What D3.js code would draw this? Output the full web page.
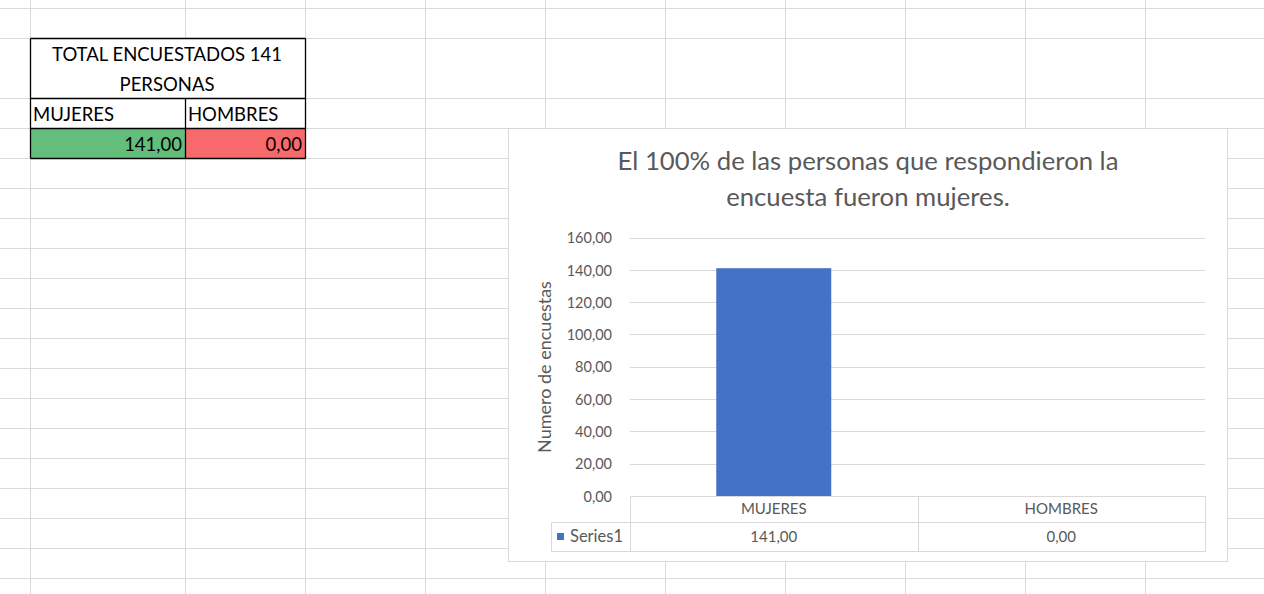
<!DOCTYPE html>
<html><head><meta charset="utf-8">
<script src="https://cdn.jsdelivr.net/npm/d3@7"></script>
<style>
html,body{margin:0;padding:0;background:#fff;}
svg{display:block;}
text{font-family:Lato,"Open Sans",sans-serif;}
</style></head>
<body>
<svg id="c" width="1264" height="594"></svg>
<script>
// ---- data ----
const categories = ["MUJERES", "HOMBRES"];
const seriesName = "Series1";
const values = [141, 0];
const yTicks = [0, 20, 40, 60, 80, 100, 120, 140, 160];
const chartTitle = ["El 100% de las personas que respondieron la", "encuesta fueron mujeres."];
const yAxisTitle = "Numero de encuestas";
const tableTitle = ["TOTAL ENCUESTADOS 141", "PERSONAS"];

const svg = d3.select("#c");
const fmt = v => d3.format(".2f")(v).replace(".", ",");

// ---- spreadsheet grid ----
const colX = [30, 185, 305, 425, 545, 665, 785, 905, 1025, 1145];
const rowY = [8, 38, 98, 128, 158, 188, 218, 248, 278, 308, 338, 368, 398, 428, 458, 488, 518, 548, 578];
const grid = svg.append("g");
colX.forEach(x => grid.append("line").attr("x1", x + 0.5).attr("x2", x + 0.5).attr("y1", 0).attr("y2", 594)
  .attr("stroke", "#dadada").attr("stroke-width", 1));
rowY.forEach(y => grid.append("line").attr("x1", 0).attr("x2", 1264).attr("y1", y + 0.5).attr("y2", y + 0.5)
  .attr("stroke", "#dadada").attr("stroke-width", 1));

// ---- spreadsheet table ----
const t = svg.append("g");
t.append("rect").attr("x", 30).attr("y", 38).attr("width", 275).attr("height", 60).attr("fill", "#fff");
t.append("rect").attr("x", 30).attr("y", 98).attr("width", 275).attr("height", 30).attr("fill", "#fff");
t.append("rect").attr("x", 30).attr("y", 128).attr("width", 155).attr("height", 30).attr("fill", "#63BE7B");
t.append("rect").attr("x", 185).attr("y", 128).attr("width", 120).attr("height", 30).attr("fill", "#F8696B");
const blk = "#000";
[[30.5,38.5,305.5,38.5],[30.5,98.5,305.5,98.5],[30.5,128.5,305.5,128.5],[30.5,158.5,305.5,158.5],
 [30.5,38.5,30.5,158.5],[305.5,38.5,305.5,158.5],[185.5,98.5,185.5,158.5]].forEach(l =>
  t.append("line").attr("x1", l[0]).attr("y1", l[1]).attr("x2", l[2]).attr("y2", l[3]).attr("stroke", blk).attr("stroke-width", 1.3));
const cellFont = "18.5px";
tableTitle.forEach((s, i) => t.append("text").attr("x", 167).attr("y", 61 + i * 30).attr("text-anchor", "middle")
  .attr("font-size", cellFont).attr("fill", "#000").text(s));
categories.forEach((c, i) => t.append("text").attr("x", [33, 188][i]).attr("y", 121).attr("font-size", cellFont).attr("fill", "#000").text(c));
values.forEach((v, i) => t.append("text").attr("x", [182, 302][i]).attr("y", 151).attr("text-anchor", "end")
  .attr("font-size", cellFont).attr("fill", "#000").text(fmt(v)));

// ---- chart ----
const ch = svg.append("g");
ch.append("rect").attr("x", 508.5).attr("y", 128.5).attr("width", 719).attr("height", 433)
  .attr("fill", "#fff").attr("stroke", "#d9d9d9").attr("stroke-width", 1);

chartTitle.forEach((s, i) => ch.append("text").attr("x", 868).attr("y", 170 + i * 36).attr("text-anchor", "middle")
  .attr("font-size", "25.7px").attr("fill", "#595959").text(s));

const x = d3.scaleBand().domain(categories).range([630, 1205]).paddingInner(0.6).paddingOuter(0.3);
const xCat = d3.scaleBand().domain(categories).range([630, 1205]);
const y = d3.scaleLinear().domain([0, 160]).range([496, 237.5]);

// gridlines
ch.append("g").selectAll("line").data(yTicks.filter(d => d > 0)).join("line")
  .attr("x1", 630).attr("x2", 1205).attr("y1", d => Math.round(y(d)) + 0.5).attr("y2", d => Math.round(y(d)) + 0.5)
  .attr("stroke", "#d9d9d9").attr("stroke-width", 1);

// y axis
const yAxis = d3.axisLeft(y).tickValues(yTicks).tickFormat(fmt).tickSize(0).tickPadding(0);
const ya = ch.append("g").attr("transform", "translate(612,0)").call(yAxis);
ya.select(".domain").remove();
ya.selectAll("text").attr("font-size", "14.5px").attr("fill", "#595959").attr("font-family", "Lato,sans-serif").attr("dy", "0.36em");

ch.append("text").attr("transform", "translate(551,367) rotate(-90)").attr("text-anchor", "middle")
  .attr("font-size", "18px").attr("fill", "#595959").text(yAxisTitle);

// bars
ch.append("g").selectAll("rect").data(categories.map((c, i) => ({c, v: values[i]}))).join("rect")
  .attr("x", d => x(d.c)).attr("width", x.bandwidth())
  .attr("y", d => y(d.v)).attr("height", d => y(0) - y(d.v)).attr("fill", "#4472C4");

// data table
const tb = ch.append("g").attr("stroke", "#d9d9d9").attr("stroke-width", 1);
const y0 = 496.5, y1 = 522.5, y2 = 551.5;
tb.append("line").attr("x1", 630.5).attr("x2", 1205.5).attr("y1", y0).attr("y2", y0);
tb.append("line").attr("x1", 551.5).attr("x2", 1205.5).attr("y1", y1).attr("y2", y1);
tb.append("line").attr("x1", 551.5).attr("x2", 1205.5).attr("y1", y2).attr("y2", y2);
tb.append("line").attr("x1", 551.5).attr("x2", 551.5).attr("y1", y1).attr("y2", y2);
tb.append("line").attr("x1", 630.5).attr("x2", 630.5).attr("y1", y0).attr("y2", y2);
categories.forEach(c => tb.append("line").attr("x1", Math.round(xCat(c) + xCat.bandwidth()) + 0.5)
  .attr("x2", Math.round(xCat(c) + xCat.bandwidth()) + 0.5).attr("y1", y0).attr("y2", y2));

categories.forEach((c, i) => {
  ch.append("text").attr("x", xCat(c) + xCat.bandwidth() / 2).attr("y", 514).attr("text-anchor", "middle")
    .attr("font-size", "15px").attr("fill", "#595959").text(c);
  ch.append("text").attr("x", xCat(c) + xCat.bandwidth() / 2).attr("y", 542).attr("text-anchor", "middle")
    .attr("font-size", "15px").attr("fill", "#595959").text(fmt(values[i]));
});
ch.append("rect").attr("x", 557).attr("y", 533).attr("width", 7).attr("height", 7).attr("fill", "#4472C4");
ch.append("text").attr("x", 570).attr("y", 542).attr("font-size", "16.5px").attr("fill", "#595959").text(seriesName);
</script>
</body></html>
